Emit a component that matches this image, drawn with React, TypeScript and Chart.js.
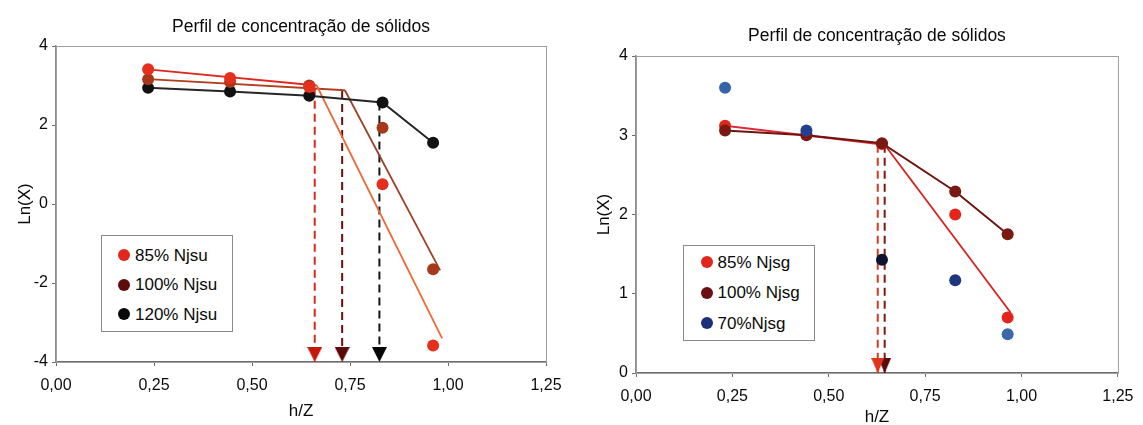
import React, { useEffect, useRef } from "react";
import { Chart, registerables } from "chart.js";

Chart.register(...registerables);

const FONT = "'Liberation Sans', Arial, Helvetica, sans-serif";
const TITLE = "Perfil de concentração de sólidos";
const X_TITLE = "h/Z";
const Y_TITLE = "Ln(X)";

// ---------- shared axis ticks ----------
const xTicks = [0, 0.25, 0.5, 0.75, 1.0, 1.25];
const xTickLabels = ["0,00", "0,25", "0,50", "0,75", "1,00", "1,25"];
const yTicksLeft = [-4, -2, 0, 2, 4];
const yTicksRight = [0, 1, 2, 3, 4];

// ---------- left chart (Njsu) ----------
const leftLabels = ["85% Njsu", "100% Njsu", "120% Njsu"];
const leftLegendColors = ["#e3261c", "#5e0b0b", "#0a0a0a"];
const hzLeft = [0.235, 0.444, 0.646, 0.833, 0.962];
const lnX85Njsu = [3.41, 3.19, 2.96, 0.5, -3.58];
const lnX100Njsu = [3.16, 3.09, 3.0, 1.93, -1.65];
const lnX120Njsu = [2.94, 2.85, 2.74, 2.57, 1.55];
const fit85NjsuX = [0.235, 0.665, 0.985];
const fit85NjsuY = [3.41, 3.0, -3.4];
const fit100NjsuX = [0.235, 0.737, 0.98];
const fit100NjsuY = [3.16, 2.88, -1.68];
const critNjsuX = [0.66, 0.73, 0.825];
const critNjsuTopY = [2.94, 2.86, 2.57];

// ---------- right chart (Njsg) ----------
const rightLabels = ["85% Njsg", "100% Njsg", "70%Njsg"];
const rightLegendColors = ["#e3261c", "#6a1010", "#1c2f7a"];
const hzRight = [0.231, 0.442, 0.638, 0.828, 0.964];
const lnX85Njsg = [3.12, 3.01, 2.89, 2.0, 0.7];
const lnX100Njsg = [3.06, 3.0, 2.9, 2.29, 1.75];
const lnX70Njsg = [3.6, 3.06, 1.43, 1.17, 0.49];
const fit85NjsgX = [0.231, 0.645, 0.972];
const fit85NjsgY = [3.12, 2.88, 0.76];
const critNjsgX = [0.627, 0.645];
const critNjsgTopY = [2.88, 2.88];

const pts = (xs: number[], ys: number[]) => xs.map((x, i) => ({ x, y: ys[i] }));

function makeArrowHead(color: string, w: number, h: number) {
  const c = document.createElement("canvas");
  c.width = w;
  c.height = h * 2;
  const ctx = c.getContext("2d")!;
  ctx.fillStyle = color;
  ctx.beginPath();
  ctx.moveTo(0, 0);
  ctx.lineTo(w, 0);
  ctx.lineTo(w / 2, h);
  ctx.closePath();
  ctx.fill();
  return c;
}

const framePlugin = {
  id: "frame",
  beforeDatasetsDraw(chart: any) {
    const { ctx, chartArea: a } = chart;
    ctx.save();
    ctx.strokeStyle = "#a0a0a0";
    ctx.lineWidth = 1;
    ctx.strokeRect(Math.round(a.left) + 0.5, Math.round(a.top) + 0.5, a.right - a.left, a.bottom - a.top);
    ctx.restore();
  },
};

function seriesDataset(label: string, xs: number[], ys: number[], color: any, showLine = false, lineColor: string = color) {
  return {
    label,
    data: pts(xs, ys),
    showLine,
    borderColor: lineColor,
    borderWidth: 2,
    backgroundColor: color,
    pointBackgroundColor: color,
    pointBorderColor: color,
    pointBorderWidth: 0,
    pointRadius: 6,
    order: 0,
  };
}

function fitDataset(xs: number[], ys: number[], c1: string, c2: string) {
  return {
    label: "",
    data: pts(xs, ys),
    showLine: true,
    borderWidth: 1.8,
    borderColor: c1,
    segment: { borderColor: (ctx: any) => (ctx.p0DataIndex === 0 ? c1 : c2) },
    pointRadius: 0,
    order: 1,
  };
}

function arrowDataset(x: number, yTop: number, yBase: number, color: string, head: HTMLCanvasElement) {
  return {
    label: "",
    data: [
      { x, y: yTop },
      { x, y: yBase },
    ],
    showLine: true,
    borderColor: color,
    borderWidth: 2,
    borderDash: [8, 5],
    pointStyle: head,
    pointRadius: [0, 7],
    clip: false,
    order: 2,
  };
}

function makeScales(yMin: number, yMax: number, yTicks: number[], xAxisH: number, xTitlePadBottom: number, yTitlePadTop: number) {
  return {
    x: {
      type: "linear",
      min: 0,
      max: 1.25,
      afterBuildTicks: (s: any) => {
        s.ticks = xTicks.map((value) => ({ value }));
      },
      ticks: {
        callback: (_v: any, i: number) => xTickLabels[i],
        color: "#0a0a0a",
        font: { family: FONT, size: 16 },
        padding: 9.5,
        maxRotation: 0,
        autoSkip: false,
      },
      grid: { drawOnChartArea: false, tickLength: 4, color: "#6a6a6a", lineWidth: 1 },
      border: { color: "#6e6e6e", width: 1.5 },
      title: {
        display: true,
        text: X_TITLE,
        color: "#0a0a0a",
        font: { family: FONT, size: 17 },
        padding: { top: 0, bottom: xTitlePadBottom },
      },
      afterFit: (s: any) => {
        s.height = xAxisH;
      },
    },
    y: {
      type: "linear",
      min: yMin,
      max: yMax,
      afterBuildTicks: (s: any) => {
        s.ticks = yTicks.map((value) => ({ value }));
      },
      ticks: {
        callback: (v: any) => String(v),
        color: "#0a0a0a",
        font: { family: FONT, size: 16 },
        padding: 4,
        autoSkip: false,
      },
      grid: { drawOnChartArea: false, tickLength: 4, color: "#6a6a6a", lineWidth: 1 },
      border: { color: "#8a8a96", width: 1.5 },
      title: {
        display: true,
        text: Y_TITLE,
        color: "#0a0a0a",
        font: { family: FONT, size: 17 },
        padding: { top: yTitlePadTop, bottom: 0 },
      },
      afterFit: (s: any) => {
        s.width = 56;
      },
    },
  };
}

function baseOptions(scales: any, titlePad: { top: number; bottom: number }, padRight: number, padBottom: number) {
  return {
    responsive: false,
    animation: false,
    events: [],
    layout: { padding: { left: 0, top: 0, right: padRight, bottom: padBottom } },
    scales,
    plugins: {
      legend: { display: false },
      tooltip: { enabled: false },
      title: {
        display: true,
        text: TITLE,
        fullSize: false,
        color: "#0a0a0a",
        font: { family: FONT, size: 17.5, weight: "normal" },
        padding: titlePad,
      },
    },
  };
}

function buildLeft() {
  const headRed = makeArrowHead("#c8160e", 15, 15);
  const headDark = makeArrowHead("#5a0808", 15, 15);
  const headBlack = makeArrowHead("#050505", 15, 15);
  return {
    type: "scatter",
    data: {
      datasets: [
        seriesDataset(leftLabels[0], hzLeft, lnX85Njsu, "#e5301e"),
        seriesDataset(leftLabels[1], hzLeft, lnX100Njsu, "#a8381c"),
        seriesDataset(leftLabels[2], hzLeft, lnX120Njsu, "#111111", true, "#262626"),
        fitDataset(fit85NjsuX, fit85NjsuY, "#e0261e", "#ea6a3a"),
        fitDataset(fit100NjsuX, fit100NjsuY, "#b0401e", "#9a4228"),
        arrowDataset(critNjsuX[0], critNjsuTopY[0], yTicksLeft[0], "#d42a1c", headRed),
        arrowDataset(critNjsuX[1], critNjsuTopY[1], yTicksLeft[0], "#6a1010", headDark),
        arrowDataset(critNjsuX[2], critNjsuTopY[2], yTicksLeft[0], "#151515", headBlack),
      ],
    },
    options: baseOptions(makeScales(-4, 4, yTicksLeft, 63, 3.4, 14.8), { top: 17, bottom: 8 }, 34, 0),
    plugins: [framePlugin],
  } as any;
}

function buildRight() {
  const headRed = makeArrowHead("#e0341a", 13, 15);
  const headDark = makeArrowHead("#5a0c0c", 13, 15);
  return {
    type: "scatter",
    data: {
      datasets: [
        seriesDataset(rightLabels[2], hzRight, lnX70Njsg, ["#3763a8", "#23408e", "#0e1430", "#1e3580", "#3a6aaa"]),
        seriesDataset(rightLabels[1], hzRight, lnX100Njsg, "#7a1812", true, "#6e1510"),
        seriesDataset(rightLabels[0], hzRight, lnX85Njsg, "#e2261c"),
        fitDataset(fit85NjsgX, fit85NjsgY, "#dc2a3a", "#d8201c"),
        arrowDataset(critNjsgX[0], critNjsgTopY[0], yTicksRight[0], "#d43a20", headRed),
        arrowDataset(critNjsgX[1], critNjsgTopY[1], yTicksRight[0], "#7a1a14", headDark),
      ],
    },
    options: baseOptions(makeScales(0, 4, yTicksRight, 52, -3, 13.8), { top: 25.5, bottom: 9.5 }, 17, 0),
    plugins: [framePlugin],
  } as any;
}

function ChartCanvas({ build, left, width }: { build: () => any; left: number; width: number }) {
  const ref = useRef<HTMLCanvasElement>(null);
  useEffect(() => {
    const chart = new Chart(ref.current as HTMLCanvasElement, build());
    return () => chart.destroy();
  }, []);
  return (
    <canvas
      ref={ref}
      width={width}
      height={425}
      style={{ position: "absolute", left, top: 0, width, height: 425 }}
    />
  );
}

function HtmlLegend(props: {
  labels: string[];
  colors: string[];
  left: number;
  top: number;
  width: number;
  height: number;
  padTop: number;
  rowH: number;
  dotLeft: number;
  gap: number;
}) {
  const { labels, colors, left, top, width, height, padTop, rowH, dotLeft, gap } = props;
  return (
    <div
      style={{
        position: "absolute",
        left,
        top,
        width,
        height,
        boxSizing: "border-box",
        border: "1px solid #8a8a8a",
        background: "#fff",
        paddingTop: padTop,
        fontFamily: FONT,
        fontSize: 17,
        color: "#0a0a0a",
      }}
    >
      {labels.map((l, i) => (
        <div key={l} style={{ height: rowH, display: "flex", alignItems: "center", paddingLeft: dotLeft }}>
          <span
            style={{ width: 12, height: 12, borderRadius: "50%", background: colors[i], marginRight: gap, flex: "none" }}
          />
          <span style={{ lineHeight: 1, whiteSpace: "nowrap" }}>{l}</span>
        </div>
      ))}
    </div>
  );
}

export default function App() {
  return (
    <div style={{ position: "absolute", left: 0, top: 0, width: 1143, height: 425, background: "#fff", overflow: "hidden" }}>
      <ChartCanvas build={buildLeft} left={0} width={580} />
      <ChartCanvas build={buildRight} left={580} width={563} />
      <HtmlLegend
        labels={leftLabels}
        colors={leftLegendColors}
        left={101}
        top={235}
        width={132}
        height={97}
        padTop={4.5}
        rowH={29.5}
        dotLeft={15.5}
        gap={5.5}
      />
      <HtmlLegend
        labels={rightLabels}
        colors={rightLegendColors}
        left={683}
        top={245}
        width={132}
        height={96}
        padTop={1}
        rowH={30.5}
        dotLeft={16.5}
        gap={5}
      />
    </div>
  );
}
